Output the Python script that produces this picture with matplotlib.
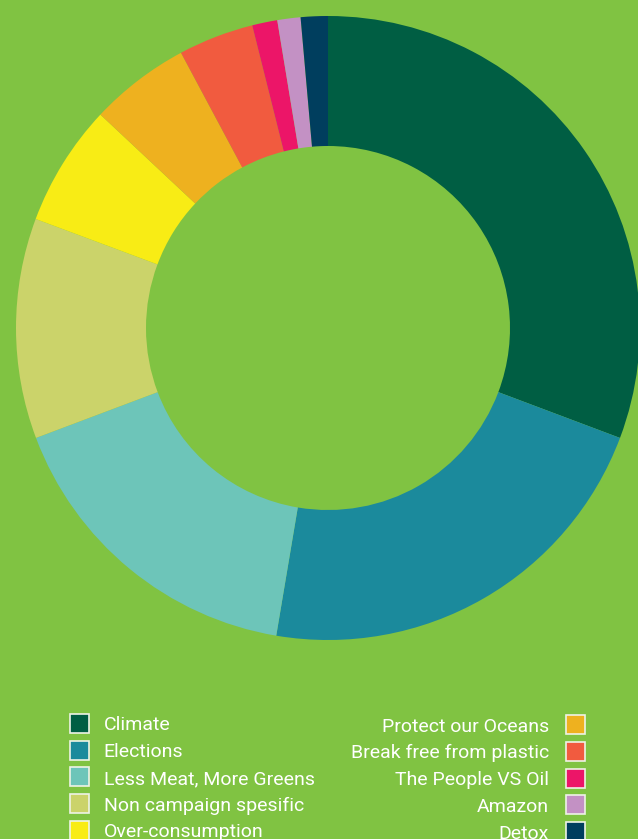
""" Donut chart of campaign share with a two-column legend underneath. """

import matplotlib.pyplot as plt
from matplotlib.patches import Rectangle

# Campaign shares in percent, clockwise from 12 o'clock
campaigns = ['Climate', 'Elections', 'Less Meat, More Greens', 'Non campaign spesific',
             'Over-consumption', 'Protect our Oceans', 'Break free from plastic',
             'The People VS Oil', 'Amazon', 'Detox']
shares = [30.7, 21.9, 16.6, 11.4, 6.3, 5.2, 3.9, 1.3, 1.2, 1.4]
colours = ['#005e43', '#1b8a9c', '#6dc5b9', '#cbd36a', '#f8ec15',
           '#eeb11f', '#f15b3f', '#ec1568', '#c391c4', '#003e5e']

bg = '#80c342'
W, H = 638, 839

plt.rcParams['font.family'] = ['Roboto', 'DejaVu Sans']
fig = plt.figure(figsize=(W / 100, H / 100), dpi=100, facecolor=bg)

# Donut: centre (328, 328) px, outer radius 312 px, inner 182 px
cx, cy, R = 328, 328, 312
ax = fig.add_axes([(cx - R) / W, (H - cy - R) / H, 2 * R / W, 2 * R / H])
ax.set_facecolor(bg)
ax.pie(shares, colors=colours, startangle=90, counterclock=False, radius=1,
       wedgeprops=dict(width=(312 - 182) / 312, linewidth=0))
ax.set_xlim(-1, 1)
ax.set_ylim(-1, 1)
ax.set_aspect('equal')
ax.axis('off')

# Legend, drawn by hand: first five on the left, last five on the right
def px(x, y):
    return x / W, 1 - y / H

sq = 19
left_rows = [723.3, 750.0, 776.7, 803.4, 830.1]
right_rows = [724.5, 751.3, 778.1, 804.9, 831.7]

for i in range(5):
    yc = left_rows[i]
    x0, y0 = px(69.5, yc + sq / 2)
    fig.patches.append(Rectangle((x0, y0), sq / W, sq / H, transform=fig.transFigure,
                                 facecolor=colours[i], edgecolor='#eef3e6', linewidth=1.2))
    tx, ty = px(103.5, yc + 7.2)
    fig.text(tx, ty, campaigns[i], color='white', fontsize=14, ha='left', va='baseline')

for i in range(5):
    yc = right_rows[i]
    x0, y0 = px(565.5, yc + sq / 2)
    fig.patches.append(Rectangle((x0, y0), sq / W, sq / H, transform=fig.transFigure,
                                 facecolor=colours[i + 5], edgecolor='#eef3e6', linewidth=1.2))
    tx, ty = px(549, yc + 7.2)
    fig.text(tx, ty, campaigns[i + 5], color='white', fontsize=14, ha='right', va='baseline')

fig.savefig('out.png', dpi=100, facecolor=bg)
